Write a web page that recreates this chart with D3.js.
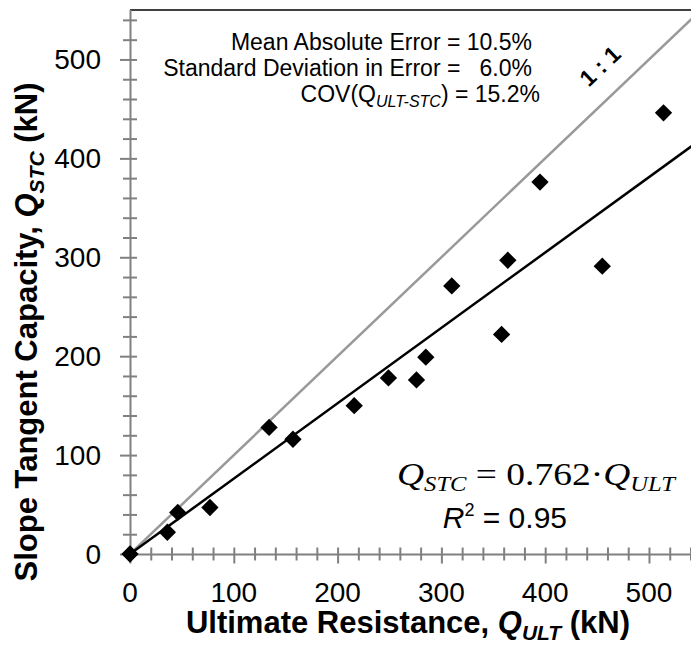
<!DOCTYPE html>
<html>
<head>
<meta charset="utf-8">
<script src="https://cdn.jsdelivr.net/npm/d3@7"></script>
<style>
  body { margin: 0; background: #fff; }
  text { font-family: "Liberation Sans", Arial, sans-serif; }
</style>
</head>
<body>
<div id="chart"></div>
<script>
// data
const ultimate = [0, 36, 46, 77, 134, 157, 216, 249, 276, 285, 310, 358, 364, 395, 455, 514];
const stc      = [0, 22, 42, 47, 128, 116, 150, 178, 176, 199, 271, 222, 297, 376, 291, 446];
const xTicks = [0, 100, 200, 300, 400, 500];
const yTicks = [0, 100, 200, 300, 400, 500];
const slope = 0.762;
const statLines = ["Mean Absolute Error = 10.5%", "Standard Deviation in Error =   6.0%"];

const width = 691;
const height = 647;

const svg = d3.select("#chart")
  .append("svg")
  .attr("width", width)
  .attr("height", height);

const x = d3.scaleLinear().domain([0, 540]).range([130, 690.5]);
const y = d3.scaleLinear().domain([0, 550]).range([554, 10]);

const grey = "#808080";

svg.append("clipPath").attr("id", "plot")
  .append("rect")
  .attr("x", x(0)).attr("y", y(550))
  .attr("width", width - x(0)).attr("height", y(0) - y(550));

// top frame line
svg.append("line")
  .attr("x1", x(0)).attr("x2", width)
  .attr("y1", y(550)).attr("y2", y(550))
  .attr("stroke", "#000").attr("stroke-width", 1.5);

// minor / major ticks crossing the axes
const gx = svg.append("g")
  .attr("transform", `translate(0, ${y(0)})`)
  .call(d3.axisBottom(x).tickValues(d3.range(0, 541, 20)).tickFormat("").tickSizeOuter(0));
gx.select(".domain").attr("stroke", grey).attr("stroke-width", 2).attr("d", `M${x(0)},0.5H${width}`);
gx.selectAll(".tick line")
  .attr("stroke", grey).attr("stroke-width", 2)
  .attr("y1", -6.5).attr("y2", d => d % 100 === 0 ? 9.5 : 6.5);

const gy = svg.append("g")
  .attr("transform", `translate(${x(0)}, 0)`)
  .call(d3.axisLeft(y).tickValues(d3.range(0, 541, 20)).tickFormat("").tickSizeOuter(0));
gy.select(".domain").attr("stroke", grey).attr("stroke-width", 2).attr("d", `M0.5,${y(0)}V${y(550)}`);
gy.selectAll(".tick line")
  .attr("stroke", grey).attr("stroke-width", 2)
  .attr("x1", 7).attr("x2", d => d % 100 === 0 ? -10 : -7);

// tick labels
svg.append("g")
  .selectAll("text")
  .data(xTicks)
  .enter()
  .append("text")
  .attr("x", d => x(d))
  .attr("y", 602)
  .attr("text-anchor", "middle")
  .attr("font-size", 28)
  .text(d => d);

svg.append("g")
  .selectAll("text")
  .data(yTicks)
  .enter()
  .append("text")
  .attr("x", 101)
  .attr("y", d => y(d) + 10)
  .attr("text-anchor", "end")
  .attr("font-size", 28)
  .text(d => d);

// 1:1 and fitted lines
const lines = svg.append("g").attr("clip-path", "url(#plot)");
lines.append("line")
  .attr("x1", x(0)).attr("y1", y(0))
  .attr("x2", x(550)).attr("y2", y(550))
  .attr("stroke", "#999").attr("stroke-width", 2.5);
lines.append("line")
  .attr("x1", x(0)).attr("y1", y(0))
  .attr("x2", x(560)).attr("y2", y(560 * slope))
  .attr("stroke", "#000").attr("stroke-width", 2.5);

// points
const diamond = d3.symbol(d3.symbolSquare, 150);
svg.append("g")
  .selectAll("path")
  .data(ultimate.map((u, i) => ({ u: u, s: stc[i] })))
  .enter()
  .append("path")
  .attr("d", diamond)
  .attr("transform", d => `translate(${x(d.u)}, ${y(d.s)}) rotate(45)`)
  .attr("fill", "#000");

// 1 : 1 label
const angle = Math.atan2(y(100) - y(0), x(100) - x(0)) * 180 / Math.PI;
svg.append("text")
  .attr("transform", `translate(600, 66) rotate(${angle})`)
  .attr("text-anchor", "middle")
  .attr("dominant-baseline", "central")
  .attr("font-size", 23)
  .attr("font-weight", "bold")
  .style("white-space", "pre")
  .text("1 : 1");

// statistics
svg.append("g")
  .selectAll("text")
  .data(statLines)
  .enter()
  .append("text")
  .attr("x", 532)
  .attr("y", (d, i) => 50 + i * 26)
  .attr("text-anchor", "end")
  .attr("font-size", 23)
  .style("white-space", "pre")
  .text(d => d);

const cov = svg.append("text")
  .attr("x", 540).attr("y", 102)
  .attr("text-anchor", "end")
  .attr("font-size", 23);
cov.append("tspan").text("COV(Q");
cov.append("tspan").attr("font-style", "italic").attr("font-size", 16).attr("dy", 5).text("ULT-STC");
cov.append("tspan").attr("dy", -5).text(") = 15.2%");

// fitted equation
const eq = svg.append("text")
  .attr("text-anchor", "start")
  .attr("font-size", 32)
  .style("font-family", "'Liberation Serif', 'Times New Roman', serif");
eq.append("tspan").attr("font-style", "italic").text("Q");
eq.append("tspan").attr("font-style", "italic").attr("font-size", 21).attr("dy", 6).text("STC");
eq.append("tspan").attr("dy", -6).style("white-space", "pre").text(" = 0.762\u00b7");
eq.append("tspan").attr("font-style", "italic").text("Q");
eq.append("tspan").attr("font-style", "italic").attr("font-size", 21).attr("dy", 6).text("ULT");
const eqLen = eq.node().getComputedTextLength();
eq.attr("transform", `translate(397, 485) scale(${278 / eqLen}, 1)`);

const r2 = svg.append("text")
  .attr("x", 567).attr("y", 528)
  .attr("text-anchor", "end")
  .attr("font-size", 30);
r2.append("tspan").attr("font-style", "italic").text("R");
r2.append("tspan").attr("font-size", 18).attr("dy", -12).text("2");
r2.append("tspan").attr("dy", 12).style("white-space", "pre").text(" = 0.95");

// axis titles
const xt = svg.append("text")
  .attr("x", 408).attr("y", 633)
  .attr("text-anchor", "middle")
  .attr("font-size", 31)
  .attr("font-weight", "bold");
xt.append("tspan").text("Ultimate Resistance, ");
xt.append("tspan").attr("font-style", "italic").text("Q");
xt.append("tspan").attr("font-style", "italic").attr("font-size", 21).attr("dy", 7).text("ULT");
xt.append("tspan").attr("dy", -7).style("white-space", "pre").text(" (kN)");

const yt = svg.append("text")
  .attr("transform", "translate(37, 332) rotate(-90)")
  .attr("text-anchor", "middle")
  .attr("font-size", 31)
  .attr("font-weight", "bold");
yt.append("tspan").text("Slope Tangent Capacity, ");
yt.append("tspan").attr("font-style", "italic").text("Q");
yt.append("tspan").attr("font-style", "italic").attr("font-size", 21).attr("dy", 7).text("STC");
yt.append("tspan").attr("dy", -7).style("white-space", "pre").text(" (kN)");
</script>
</body>
</html>
